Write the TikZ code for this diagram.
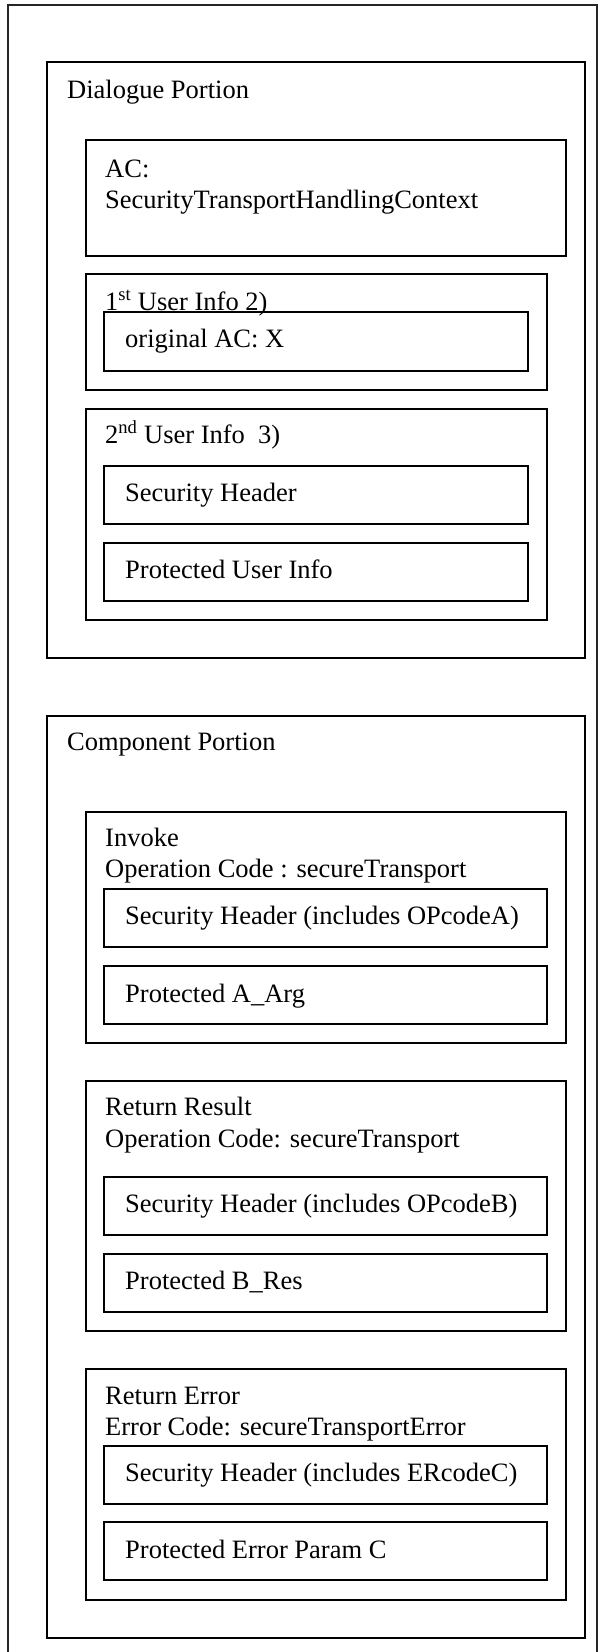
\documentclass[tikz,border=0pt]{standalone}
\usepackage{fontspec}
\setmainfont{Liberation Serif}
\begin{document}
\begin{tikzpicture}[x=1pt,y=-1pt,
  box/.style={draw=black,line width=1.6pt},
  frame/.style={draw=black!85,line width=1.2pt},
  txt/.style={anchor=base west,inner sep=0pt,font=\fontsize{26.5pt}{30pt}\selectfont}]
\useasboundingbox[fill=white] (0,0) rectangle (599,1652);
\begin{scope}
\clip (0,0) rectangle (599,1652);
\draw[frame] (8,5) rectangle (597,1670);
\end{scope}
% Dialogue portion
\draw[box] (47,62) rectangle (585,658);
\draw[box] (86,140) rectangle (566,256);
\draw[box] (86,274) rectangle (547,390);
\draw[box] (104,312) rectangle (528,371);
\draw[box] (86,409) rectangle (547,620);
\draw[box] (104,466) rectangle (528,524);
\draw[box] (104,543) rectangle (528,601);
% Component portion
\draw[box] (47,716) rectangle (585,1638);
\draw[box] (86,812) rectangle (566,1043);
\draw[box] (104,889) rectangle (547,947);
\draw[box] (104,966) rectangle (547,1024);
\draw[box] (86,1081) rectangle (566,1331);
\draw[box] (104,1177) rectangle (547,1235);
\draw[box] (104,1254) rectangle (547,1312);
\draw[box] (86,1369) rectangle (566,1600);
\draw[box] (104,1446) rectangle (547,1504);
\draw[box] (104,1522) rectangle (547,1580);
% Texts
\node[txt] (t1) at (67,98) {Dialogue Portion};
\node[txt] (t2) at (105,177) {AC:};
\node[txt] (t3) at (105,208) {SecurityTransportHandlingContext};
\node[txt] (t4) at (105,310) {1\textsuperscript{st} User Info 2)};
\node[txt] (t5) at (125,347) {original AC: X};
\node[txt] (t6) at (105,443) {2\textsuperscript{nd} User Info\ \ 3)};
\node[txt] (t7) at (125,501) {Security Header};
\node[txt] (t8) at (125,578) {Protected User Info};
\node[txt] (t9) at (67,750) {Component Portion};
\node[txt] (t10) at (105,846) {Invoke};
\node[txt] (t11) at (105,877) {Operation Code : secureTransport};
\node[txt] (t12) at (125,924) {Security Header (includes OPcodeA)};
\node[txt] (t13) at (125,1002) {Protected A\_Arg};
\node[txt] (t14) at (105,1115) {Return Result};
\node[txt] (t15) at (105,1147) {Operation Code: secureTransport};
\node[txt] (t16) at (125,1212) {Security Header (includes OPcodeB)};
\node[txt] (t17) at (125,1289) {Protected B\_Res};
\node[txt] (t18) at (105,1404) {Return Error};
\node[txt] (t19) at (105,1435) {Error Code: secureTransportError};
\node[txt] (t20) at (125,1481) {Security Header (includes ERcodeC)};
\node[txt] (t21) at (125,1558) {Protected Error Param C};
\end{tikzpicture}
\end{document}
